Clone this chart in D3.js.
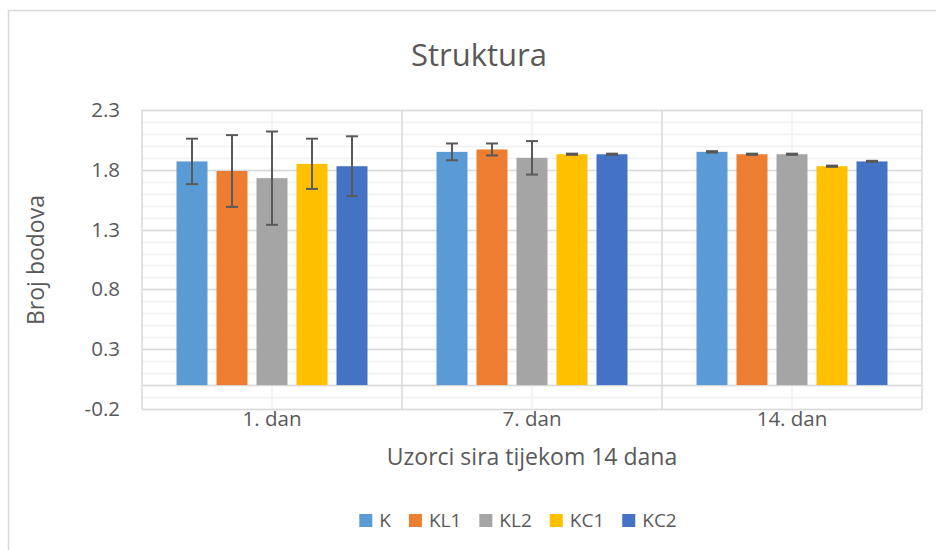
<!DOCTYPE html>
<html>
<head>
<meta charset="utf-8">
<script src="https://cdn.jsdelivr.net/npm/d3@7"></script>
<style>
  body { margin: 0; background: #fff; }
  svg { display: block; font-family: 'Open Sans', sans-serif; }
</style>
</head>
<body>
<div class="bar-chart"></div>
<script>
// data
const categories = ['1. dan', '7. dan', '14. dan'];
const seriesNames = ['K', 'KL1', 'KL2', 'KC1', 'KC2'];
const seriesColors = ['#5B9BD5', '#ED7D31', '#A5A5A5', '#FFC000', '#4472C4'];
const valuesK = [1.87, 1.95, 1.95];
const valuesKL1 = [1.79, 1.97, 1.93];
const valuesKL2 = [1.73, 1.90, 1.93];
const valuesKC1 = [1.85, 1.93, 1.83];
const valuesKC2 = [1.83, 1.93, 1.87];
const errK = [0.19, 0.07, 0.006];
const errKL1 = [0.30, 0.05, 0.005];
const errKL2 = [0.39, 0.14, 0.005];
const errKC1 = [0.21, 0.005, 0.005];
const errKC2 = [0.25, 0.005, 0.005];
const yTickValues = [-0.2, 0.3, 0.8, 1.3, 1.8, 2.3];
const yTickLabels = ['-0.2', '0.3', '0.8', '1.3', '1.8', '2.3'];

const allValues = [valuesK, valuesKL1, valuesKL2, valuesKC1, valuesKC2];
const allErrors = [errK, errKL1, errKL2, errKC1, errKC2];

const width = 936, height = 550;
const margin = { top: 110, right: 14, bottom: 141, left: 142 };
const textColor = '#595959';

const svg = d3.select('.bar-chart').append('svg')
  .attr('width', width)
  .attr('height', height);

// chart area border (only top/left visible in the frame)
svg.append('rect')
  .attr('x', 8.5).attr('y', 10.5)
  .attr('width', 960).attr('height', 560)
  .attr('fill', 'none')
  .attr('stroke', '#d9d9d9')
  .attr('stroke-width', 1.5);

const x0 = d3.scaleBand()
  .domain(categories)
  .range([margin.left, width - margin.right]);

const x1 = d3.scaleBand()
  .domain(seriesNames)
  .range([0, x0.bandwidth()])
  .paddingInner(0.225)
  .paddingOuter(0.8625);

const y = d3.scaleLinear()
  .domain([-0.2, 2.3])
  .range([height - margin.bottom, margin.top]);

const g = svg.append('g');

// minor horizontal gridlines every 0.1
const minor = d3.range(-2, 24).map(i => i / 10);
g.append('g')
  .selectAll('line')
  .data(minor)
  .enter().append('line')
  .attr('x1', margin.left).attr('x2', width - margin.right)
  .attr('y1', d => Math.round(y(d)) + 0.5).attr('y2', d => Math.round(y(d)) + 0.5)
  .attr('stroke', '#f0f0f0')
  .attr('stroke-width', 1.5);

// vertical lines at category centres
g.append('g')
  .selectAll('line')
  .data(categories)
  .enter().append('line')
  .attr('x1', d => x0(d) + x0.bandwidth() / 2).attr('x2', d => x0(d) + x0.bandwidth() / 2)
  .attr('y1', margin.top).attr('y2', height - margin.bottom)
  .attr('stroke', '#f0f0f0')
  .attr('stroke-width', 1.5);

// major horizontal gridlines
g.append('g')
  .selectAll('line')
  .data(yTickValues.concat([0]))
  .enter().append('line')
  .attr('x1', margin.left).attr('x2', width - margin.right)
  .attr('y1', d => Math.round(y(d)) + 0.5).attr('y2', d => Math.round(y(d)) + 0.5)
  .attr('stroke', '#d9d9d9')
  .attr('stroke-width', 1.5);

// category boundaries
const bounds = categories.map(c => x0(c)).concat([width - margin.right]);
g.append('g')
  .selectAll('line')
  .data(bounds)
  .enter().append('line')
  .attr('x1', d => d).attr('x2', d => d)
  .attr('y1', margin.top).attr('y2', height - margin.bottom)
  .attr('stroke', '#d9d9d9')
  .attr('stroke-width', 1.5);

// bars
const groups = g.append('g')
  .selectAll('g')
  .data(seriesNames)
  .enter().append('g')
  .attr('fill', (d, i) => seriesColors[i]);

groups.selectAll('rect')
  .data((s, si) => categories.map((c, ci) => ({ cat: c, series: s, v: allValues[si][ci], e: allErrors[si][ci] })))
  .enter().append('rect')
  .attr('x', d => x0(d.cat) + x1(d.series))
  .attr('y', d => y(d.v))
  .attr('width', x1.bandwidth())
  .attr('height', d => y(0) - y(d.v));

// error bars
const errs = g.append('g')
  .attr('stroke', textColor)
  .attr('stroke-width', 2)
  .selectAll('g')
  .data(seriesNames.flatMap((s, si) => categories.map((c, ci) => ({ cat: c, series: s, v: allValues[si][ci], e: allErrors[si][ci] }))))
  .enter().append('g')
  .attr('transform', d => 'translate(' + (x0(d.cat) + x1(d.series) + x1.bandwidth() / 2) + ',0)');

errs.append('line')
  .attr('y1', d => y(d.v - d.e)).attr('y2', d => y(d.v + d.e));
errs.append('line')
  .attr('x1', -6).attr('x2', 6)
  .attr('y1', d => y(d.v + d.e)).attr('y2', d => y(d.v + d.e));
errs.append('line')
  .attr('x1', -6).attr('x2', 6)
  .attr('y1', d => y(d.v - d.e)).attr('y2', d => y(d.v - d.e));

// axes
const yAxis = g.append('g')
  .attr('transform', 'translate(' + margin.left + ',0)')
  .call(d3.axisLeft(y).tickValues(yTickValues).tickSize(0).tickPadding(22)
    .tickFormat((d, i) => yTickLabels[i]));
yAxis.select('.domain').remove();
yAxis.selectAll('text')
  .attr('fill', textColor)
  .attr('font-size', 20.5)
  .attr('font-family', "'Open Sans', sans-serif");

const xAxis = g.append('g')
  .attr('transform', 'translate(0,' + (height - margin.bottom) + ')')
  .call(d3.axisBottom(x0).tickSize(0).tickPadding(2));
xAxis.select('.domain').remove();
xAxis.selectAll('text')
  .attr('fill', textColor)
  .attr('font-size', 20.5)
  .attr('font-family', "'Open Sans', sans-serif");

// titles
svg.append('text')
  .attr('x', 479).attr('y', 66)
  .attr('text-anchor', 'middle')
  .attr('fill', textColor)
  .attr('font-size', 31)
  .text('Struktura');

svg.append('text')
  .attr('x', (margin.left + width - margin.right) / 2).attr('y', 465)
  .attr('text-anchor', 'middle')
  .attr('fill', textColor)
  .attr('font-size', 23)
  .text('Uzorci sira tijekom 14 dana');

svg.append('text')
  .attr('transform', 'translate(44,260) rotate(-90)')
  .attr('text-anchor', 'middle')
  .attr('fill', textColor)
  .attr('font-size', 23)
  .text('Broj bodova');

// legend
const legend = svg.append('g')
  .attr('font-size', 19)
  .attr('fill', textColor);

const items = legend.selectAll('g')
  .data(seriesNames)
  .enter().append('g');

items.append('rect')
  .attr('width', 13).attr('height', 13)
  .attr('y', -13)
  .attr('fill', (d, i) => seriesColors[i]);

items.append('text')
  .attr('x', 20)
  .attr('y', 0)
  .text(d => d);

let offset = 0;
const offsets = [];
items.each(function () {
  offsets.push(offset);
  offset += 20 + this.querySelector('text').getComputedTextLength() + 18;
});
const legendWidth = offset - 18;
items.attr('transform', (d, i) => 'translate(' + (518 - legendWidth / 2 + offsets[i]) + ',527)');
</script>
</body>
</html>
